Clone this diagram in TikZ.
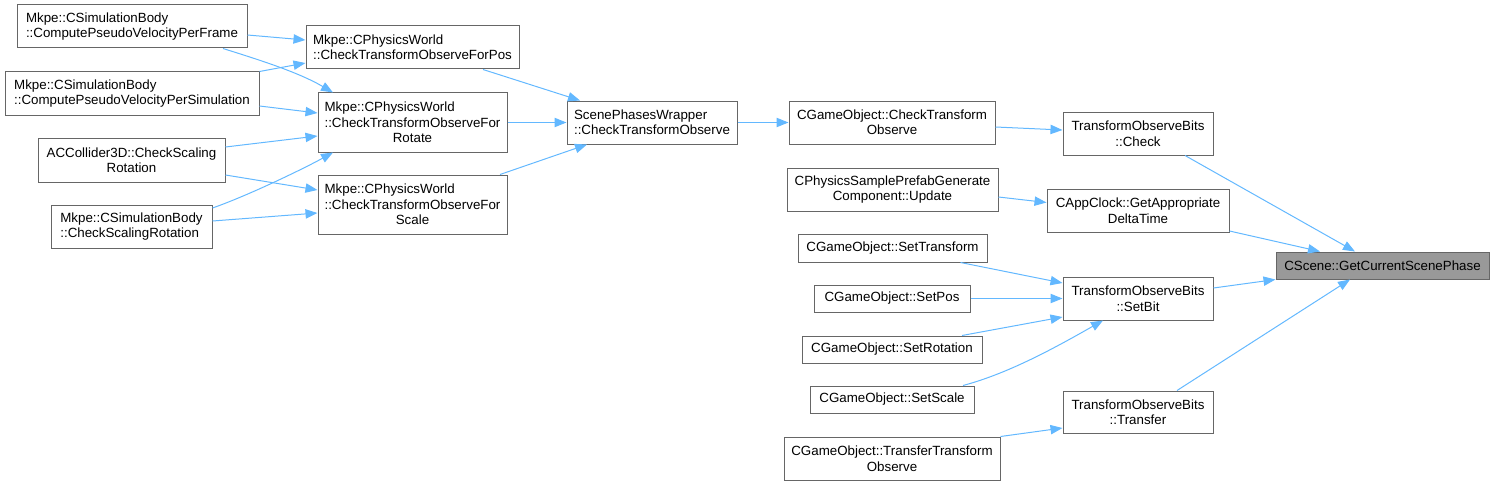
\documentclass[tikz,border=0pt]{standalone}
\usepackage{fontspec}
\setmainfont{Liberation Sans}
\usetikzlibrary{arrows.meta,calc}
\definecolor{edgec}{HTML}{63B8FF}
\definecolor{nodeb}{HTML}{666666}
\definecolor{tgt}{HTML}{999999}
\begin{document}
\begin{tikzpicture}[x=0.75pt,y=-0.75pt,
  box/.style={draw=nodeb, fill=white, line width=0.75pt, inner sep=0pt,
    font=\fontsize{10}{11.6}\selectfont},
  wh/.style 2 args={minimum width=#1*0.75pt, minimum height=#2*0.75pt},
  edge/.style={draw=edgec, line width=0.75pt, -{Triangle[length=9pt,width=7pt]}}]
\useasboundingbox (0,0) rectangle (1495,485);
% left column
\node[box, wh={230}{43}, align=left] (n1) at (132,26.5) {Mkpe::CSimulationBody\\::ComputePseudoVelocityPerFrame};
\node[box, wh={254}{43}, align=left] (n2) at (132,93.5) {Mkpe::CSimulationBody\\::ComputePseudoVelocityPerSimulation};
\node[box, wh={187}{44}, align=center] (n3) at (131.5,160) {ACCollider3D::CheckScaling\\Rotation};
\node[box, wh={161}{43}, align=left] (n4) at (131.5,226.5) {Mkpe::CSimulationBody\\::CheckScalingRotation};
% second column
\node[box, wh={213}{43}, align=left] (n5) at (412.5,47.5) {Mkpe::CPhysicsWorld\\::CheckTransformObserveForPos};
\node[box, wh={189}{59}, align=center] (n6) at (412.5,122.5) {\rlap{Mkpe::CPhysicsWorld}\phantom{::CheckTransformObserveFor}\\::CheckTransformObserveFor\\Rotate};
\node[box, wh={189}{59}, align=center] (n7) at (412.5,204.5) {\rlap{Mkpe::CPhysicsWorld}\phantom{::CheckTransformObserveFor}\\::CheckTransformObserveFor\\Scale};
% third
\node[box, wh={170}{43}, align=left] (n8) at (652,122.5) {ScenePhasesWrapper\\::CheckTransformObserve};
% fourth column
\node[box, wh={206}{43}, align=center] (n9) at (892,122.5) {CGameObject::CheckTransform\\Observe};
\node[box, wh={211}{43}, align=center] (n11) at (892.5,189.5) {CPhysicsSamplePrefabGenerate\\Component::Update};
\node[box, wh={189}{28}] (n13) at (892.5,248) {CGameObject::SetTransform};
\node[box, wh={156}{27}] (n14) at (892,298.5) {CGameObject::SetPos};
\node[box, wh={180}{27}] (n15) at (892,349.5) {CGameObject::SetRotation};
\node[box, wh={164}{27}] (n16) at (892,399.5) {CGameObject::SetScale};
\node[box, wh={216}{43}, align=center] (n19) at (892,458.5) {CGameObject::TransferTransform\\Observe};
% fifth column
\node[box, wh={150}{43}, align=center] (n10) at (1138,133.5) {TransformObserveBits\\::Check};
\node[box, wh={182}{43}, align=center] (n12) at (1138,210.5) {CAppClock::GetAppropriate\\DeltaTime};
\node[box, wh={150}{43}, align=center] (n17) at (1138,298.5) {TransformObserveBits\\::SetBit};
\node[box, wh={150}{42}, align=center] (n18) at (1138,412) {TransformObserveBits\\::Transfer};
% target
\node[box, wh={213}{27}, fill=tgt] (n20) at (1382.5,265.5) {CScene::GetCurrentScenePhase};
% edges
\draw[edge] ($(n1.east)+(0,8.5)$) -- ($(n5.west)+(0,-7.5)$);
\draw[edge] ($(n1.south)+(91,0)$) .. controls (258,59.5) and (298,72) .. ($(n6.north)+(-79.5,0)$);
\draw[edge] (n2.north east) -- ($(n5.west)+(0,15.5)$);
\draw[edge] ($(n2.east)+(0,12.5)$) -- ($(n6.west)+(0,-9.5)$);
\draw[edge] ($(n3.east)+(0,-13)$) -- ($(n6.west)+(0,13.5)$);
\draw[edge] ($(n3.east)+(0,15)$) -- ($(n7.west)+(0,-14.5)$);
\draw[edge] ($(n4.east)+(0,-18.5)$) .. controls (247,196) and (303,169) .. ($(n6.south)+(-79.5,0)$);
\draw[edge] ($(n4.east)+(0,-5.5)$) -- ($(n7.west)+(0,8.5)$);
\draw[edge] ($(n5.south)+(70.5,0)$) -- ($(n8.north)+(-72,0)$);
\draw[edge] (n6.east) -- (n8.west);
\draw[edge] ($(n7.north)+(87.5,0)$) -- ($(n8.south)+(-65,0)$);
\draw[edge] (n8.east) -- (n9.west);
\draw[edge] ($(n9.east)+(0,4.5)$) -- ($(n10.west)+(0,-3.5)$);
\draw[edge] ($(n10.south)+(47,0)$) -- ($(n20.north)+(-27.5,0)$);
\draw[edge] ($(n11.east)+(0,7.5)$) -- ($(n12.west)+(0,-8)$);
\draw[edge] ($(n12.east)+(0,20.5)$) -- ($(n20.north)+(-62.5,0)$);
\draw[edge] ($(n13.south)+(68,0)$) -- ($(n17.west)+(0,-15.5)$);
\draw[edge] (n14.east) -- (n17.west);
\draw[edge] ($(n15.north)+(70,0)$) -- ($(n17.west)+(0,18.5)$);
\draw[edge] ($(n16.north)+(71,0)$) .. controls (1010,373) and (1058,346) .. ($(n17.south)+(-35,0)$);
\draw[edge] ($(n17.east)+(0,-10.5)$) -- (n20.south west);
\draw[edge] ($(n18.north)+(39,0)$) -- ($(n20.south)+(-32.5,0)$);
\draw[edge] (n19.north east) -- ($(n18.west)+(0,16)$);
\end{tikzpicture}
\end{document}
